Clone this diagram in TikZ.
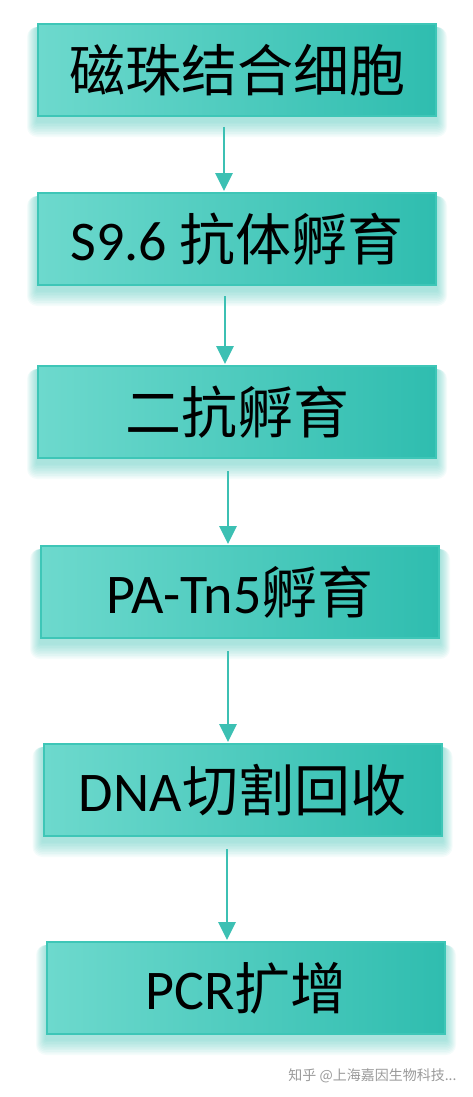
\documentclass[tikz,border=0pt]{standalone}
\usepackage{fontspec}
\setmainfont{Carlito}
\newfontfamily\cjk{Noto Sans CJK SC}
\usetikzlibrary{arrows.meta,backgrounds}
\definecolor{boxL}{HTML}{6DD9CD}
\definecolor{boxR}{HTML}{2FBDAF}
\definecolor{boxB}{HTML}{3EC6B7}
\definecolor{arrc}{HTML}{3CC0B3}
\definecolor{glowc}{HTML}{3CC0B3}
\definecolor{wm}{HTML}{9A9A9A}
\tikzset{
  stepbox/.style={rectangle, draw=boxB, line width=2pt, left color=boxL, right color=boxR,
    minimum width=398pt, minimum height=92pt, inner sep=0pt, font=\fontsize{56}{64}\selectfont, text=black},
  flow/.style={draw=arrc, line width=2.8pt, -{Triangle[width=17pt,length=18pt]}},
}
\newcommand{\glowbox}[1]{%
  \foreach \i in {1,...,10}{%
    \fill[glowc, opacity=0.055, rounded corners=\i pt]
      ([xshift=-\i pt, yshift=-4pt-1.6*\i pt]#1.south west) rectangle ([xshift=\i pt, yshift=-4pt]#1.north east);
  }%
}
\begin{document}
\begin{tikzpicture}[x=1pt,y=1pt]
\useasboundingbox (0,0) rectangle (472,-1097);
\node[stepbox] (b1) at (237,-70) {\cjk 磁珠结合细胞};
\node[stepbox] (b2) at (237,-239) {S9.6 {\cjk 抗体孵育}};
\node[stepbox] (b3) at (237,-412) {\cjk 二抗孵育};
\node[stepbox] (b4) at (240,-592) {PA-Tn5{\cjk 孵育}};
\node[stepbox] (b5) at (242.5,-790) {DNA{\cjk 切割回收}};
\node[stepbox] (b6) at (246,-988) {PCR{\cjk 扩增}};
\begin{scope}[on background layer]
\glowbox{b1}\glowbox{b2}\glowbox{b3}\glowbox{b4}\glowbox{b5}\glowbox{b6}
\end{scope}
\coordinate (x1) at (224,0);
\coordinate (x2) at (225,0);
\coordinate (x3) at (228,0);
\coordinate (x4) at (228,0);
\coordinate (x5) at (227,0);
\draw[flow] ([yshift=-10pt]b1.south -| x1) -- ([yshift=1pt]b2.north -| x1);
\draw[flow] ([yshift=-10pt]b2.south -| x2) -- ([yshift=1pt]b3.north -| x2);
\draw[flow] ([yshift=-12pt]b3.south -| x3) -- ([yshift=1pt]b4.north -| x3);
\draw[flow] ([yshift=-12pt]b4.south -| x4) -- ([yshift=1pt]b5.north -| x4);
\draw[flow] ([yshift=-12pt]b5.south -| x5) -- ([yshift=1pt]b6.north -| x5);
\node[text=wm, font=\cjk\fontsize{14}{16}\selectfont, anchor=east] (wmk) at (460,-1076) {知乎 @上海嘉因生物科技...};
\end{tikzpicture}
\end{document}
